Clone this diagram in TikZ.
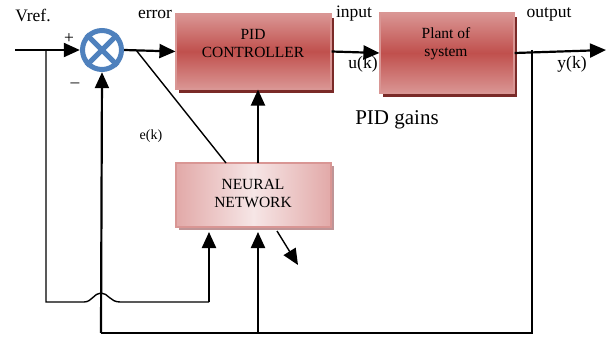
\documentclass[tikz,border=0pt]{standalone}
\usepackage{fontspec}
\setmainfont{Liberation Serif}
\usetikzlibrary{arrows.meta,shadows}
\definecolor{sumblue}{HTML}{4F81BD}
\definecolor{pidlight}{HTML}{DA9694}
\definecolor{piddark}{HTML}{C0504D}
\definecolor{pidborder}{HTML}{D99694}
\definecolor{pidshadow}{HTML}{7A2A28}
\definecolor{nnpink}{HTML}{E2A9A8}
\definecolor{nnlight}{HTML}{F6E6E6}
\definecolor{nnshadow}{HTML}{BF9496}
\tikzset{
  lbl/.style={font=\fontsize{17.5}{20}\selectfont, inner sep=0pt},
  boxtxt/.style={font=\fontsize{15.5}{18}\selectfont, align=center, inner sep=0pt},
  redbox/.style={rectangle, draw=pidborder, line width=1.2pt, top color=pidlight, bottom color=pidlight, middle color=piddark,
    drop shadow={shadow xshift=3pt, shadow yshift=-4pt, fill=pidshadow, opacity=1}},
  pinkbox/.style={rectangle, draw=pidborder, line width=1.2pt, left color=nnpink, right color=nnpink, middle color=nnlight,
    drop shadow={shadow xshift=3pt, shadow yshift=-3pt, fill=nnshadow, opacity=1}},
  wire/.style={line width=2.2pt},
  thinwire/.style={line width=1.4pt},
  arr/.style={-{Triangle[length=16pt,width=14pt]}},
}
\begin{document}
\begin{tikzpicture}[x=1pt,y=-1pt]
\useasboundingbox (0,0) rectangle (606,337);
% blocks
\node[redbox, minimum width=155pt, minimum height=75pt] (pid) at (253.5,51.5) {};
\node[boxtxt] (pidt) at (253,44) {PID\\CONTROLLER};
\node[redbox, minimum width=134pt, minimum height=80pt] (plant) at (447,53) {};
\node[boxtxt] (plantt) at (446,44) {Plant of\\system};
\node[pinkbox, minimum width=155pt, minimum height=64pt] (nn) at (253.5,195) {};
\node[boxtxt] (nnt) at (253,193.5) {NEURAL\\NETWORK};
% summing junction
\node[circle, minimum size=44pt, inner sep=0pt] (sum) at (102,50) {};
\draw[sumblue, line width=5pt] (sum.center) circle (19.5);
\draw[sumblue, line width=5pt] (sum.north west) -- (sum.south east) (sum.north east) -- (sum.south west);
% coordinates
\coordinate (vin) at (15,50);
\coordinate (br1) at (46,50);
\coordinate (l1) at (46,302);
\coordinate (bump1) at (84,302);
\coordinate (bump2) at (120,302);
\coordinate (l2) at (209,302);
\coordinate (nnin1) at (209,232);
\coordinate (ebr) at (136,50);
\coordinate (etop) at (226,163);
\coordinate (gain) at (258,163);
\coordinate (outend) at (606,50);
\coordinate (obr) at (532,50);
\coordinate (ob) at (532,333);
\coordinate (fb) at (101,333);
\coordinate (fbm) at (258,333);
\coordinate (nnin2) at (258,232);
\coordinate (nnout1) at (277,231);
\coordinate (nnout2) at (298,265);
% connectors
\draw[wire, arr] (vin) -- (sum.west);
\draw[thinwire] (br1) -- (l1) -- (bump1) .. controls (92,302) and (94,293) .. (101,293) .. controls (108,293) and (110,302) .. (bump2) -- (l2);
\draw[wire, arr] (l2) -- (nnin1);
\draw[wire, arr] (sum.east) -- (pid.west);
\draw[thinwire] (ebr) -- (etop);
\draw[wire, arr] (gain) -- (pid.south -| gain);
\draw[wire, arr] (pid.east) -- (plant.west);
\draw[wire, arr] (plant.east) -- (outend);
\draw[wire] (obr) -- (ob) -- (fb);
\draw[wire, arr] (fb) -- (sum.south);
\draw[wire, arr] (fbm) -- (nnin2);
\draw[thinwire, arr] (nnout1) -- (nnout2);
% labels
\node[lbl] (vref) at (33,15) {Vref.};
\node[lbl] (err) at (155,14) {error};
\node[lbl] (inp) at (354,14) {input};
\node[lbl] (outp) at (549,14) {output};
\node[lbl] (uk) at (363,64) {u(k)};
\node[lbl] (yk) at (572,64) {y(k)};
\node[font=\fontsize{14}{16}\selectfont, inner sep=0pt] (ek) at (151,136) {e(k)};
\node[font=\fontsize{21}{24}\selectfont, inner sep=0pt] (gains) at (397,120) {PID gains};
\node[lbl] (plus) at (69,39) {+};
\node[lbl] (minus) at (75,85) {\textendash};
\end{tikzpicture}
\end{document}
